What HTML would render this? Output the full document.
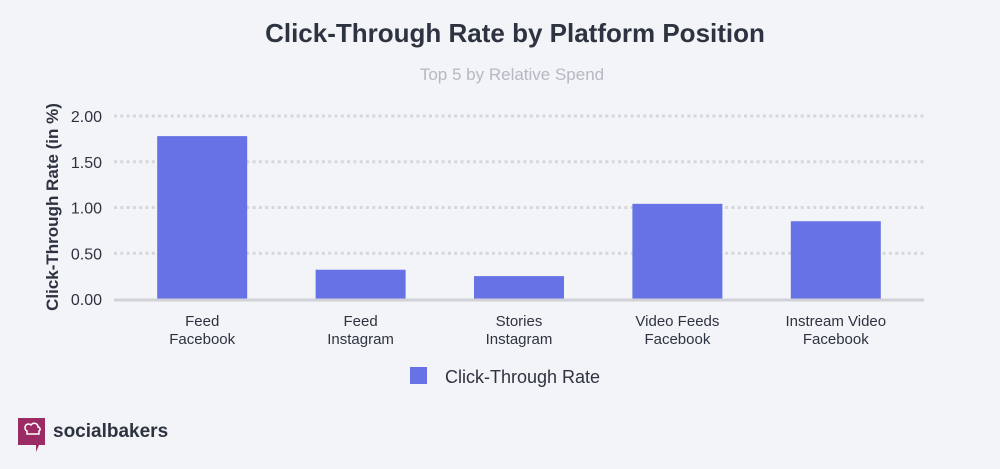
<!DOCTYPE html>
<html><head><meta charset="utf-8"><style>
body{margin:0;background:#f3f4f7;font-family:"Liberation Sans",sans-serif;}
</style></head><body>
<svg width="1000" height="464" xmlns="http://www.w3.org/2000/svg">
<rect width="1000" height="464" fill="#f3f4f7"/>
<text x="515" y="42" text-anchor="middle" font-size="26" font-weight="bold" fill="#2d3340">Click-Through Rate by Platform Position</text>
<text x="512" y="80" text-anchor="middle" font-size="17" fill="#b4b9c2">Top 5 by Relative Spend</text>
<text transform="translate(58,207) rotate(-90)" text-anchor="middle" font-size="17" font-weight="bold" fill="#2d3340">Click-Through Rate (in %)</text>
<g id="grid"></g><g id="bars"></g><g id="xlabels"></g>
<rect x="410" y="367" width="17" height="17" fill="#6672e5"/>
<text x="445" y="383" font-size="18" fill="#2d3340">Click-Through Rate</text>
<g>
<path d="M18 418h27v27h-6l-3 7v-7h-18z" fill="#9b2b63"/>
<path d="M25 428c0-4 4-5 6-3 2-3 7-2 7 2 2 0 3 3 1 4v3h-12v-3c-2-1-2-3-2-3z" fill="none" stroke="#fff" stroke-width="1.5"/>
<text x="53" y="437" font-size="19" font-weight="600" fill="#2d3340">socialbakers</text>
</g>
</svg>
<script>
const categories=[["Feed","Facebook"],["Feed","Instagram"],["Stories","Instagram"],["Video Feeds","Facebook"],["Instream Video","Facebook"]];
const values=[1.78,0.32,0.25,1.04,0.85];
const ticks=[0,0.5,1,1.5,2];
const tickLabels=["0.00","0.50","1.00","1.50","2.00"];
const NS="http://www.w3.org/2000/svg";
const y0=299,yScale=91.5,left=123,band=158.4,barW=90;
const y=v=>y0-v*yScale;
const x=i=>left+band*i+band/2;
function mk(t,a,p){const e=document.createElementNS(NS,t);for(const k in a)e.setAttribute(k,a[k]);p.appendChild(e);return e;}
const g=document.getElementById('grid');
ticks.forEach((t,i)=>{
 if(t>0){const l=mk('line',{x1:114,x2:924,y1:y(t),y2:y(t),stroke:'#d5d7dc','stroke-width':3,'stroke-dasharray':'3 3.3'},g);
 
 }
 const tx=mk('text',{x:102,y:y(t)+6,'text-anchor':'end','font-size':16,fill:'#2d3340'},g);
 tx.textContent=tickLabels[i];
 
 
});
const b=document.getElementById('bars');
values.forEach((v,i)=>{
 const r=mk('rect',{x:x(i)-barW/2,y:y(v),width:barW,height:y0-y(v),fill:'#6672e5'},b);
 
 
});
const ax=mk('line',{x1:114,x2:924,y1:y0+1,y2:y0+1,stroke:'#d0d2d8','stroke-width':3},b);


const xl=document.getElementById('xlabels');
categories.forEach((c,i)=>{
 c.forEach((s,j)=>{
  const t=mk('text',{x:x(i),y:326+j*18,'text-anchor':'middle','font-size':15,fill:'#2d3340'},xl);
  t.textContent=s;
  
  
 });
});
</script>
</body></html>
